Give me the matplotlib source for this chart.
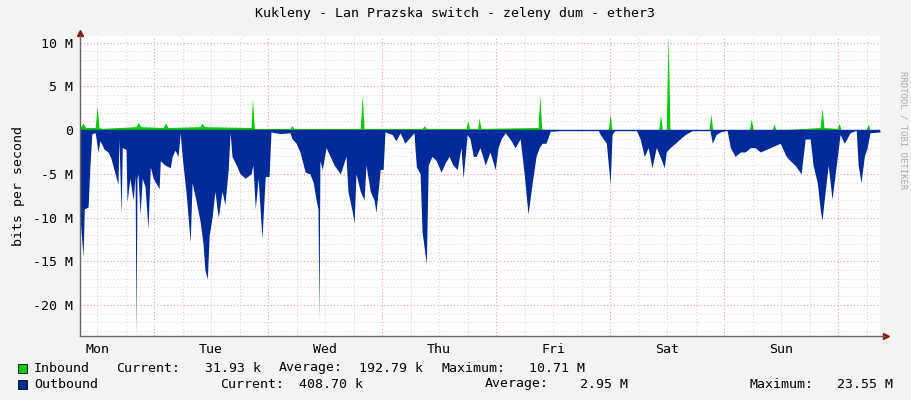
import matplotlib
matplotlib.use("Agg")
import matplotlib.pyplot as plt
import numpy as np

# time in hours since Monday 00:00, values in Mbit/s
out_t = [8.4, 9.05, 9.3, 10.1, 10.5, 10.9, 11.6, 12.2, 12.6, 13.5, 14.3, 14.9, 15.8, 16.4, 16.6, 17.05,
         17.3, 18.1, 18.3, 18.9, 19.6, 20.0, 20.2, 20.4, 20.6, 21.05, 21.5, 22.1, 22.7, 23.2, 23.8, 25.05,
         25.3, 26.3, 27.4, 27.8, 28.4, 29.05, 29.5, 29.9, 30.7, 31.6, 32.0, 32.8, 33.7, 34.3, 34.7, 35.2,
         35.6, 36.2, 36.8, 37.5, 38.3, 38.9, 39.6, 40.0, 40.4, 41.3, 42.1, 43.2, 44.4, 44.8, 45.3, 45.9,
         46.7, 47.4, 48.2, 48.6, 50.5, 52.6, 53.05, 53.9, 54.7, 55.8, 56.8, 57.5, 58.1, 58.5, 58.7, 58.9,
         59.4, 60.2, 61.05, 61.9, 63.2, 64.4, 64.8, 65.7, 66.1, 66.5, 67.4, 68.2, 68.6, 69.5, 70.3, 70.7,
         71.6, 72.2, 72.6, 74.1, 74.9, 75.8, 76.8, 77.9, 78.7, 79.2, 80.0, 80.4, 81.3, 81.7, 82.5, 83.4,
         84.4, 85.3, 86.1, 86.9, 87.8, 88.6, 89.05, 89.9, 90.5, 91.2, 91.8, 92.6, 93.7, 94.7, 95.8, 96.4,
         97.05, 97.9, 98.9, 100.0, 101.05, 101.9, 102.7, 103.6, 104.4, 105.05, 105.7, 106.5, 107.4, 108.4,
         109.5, 110.5, 117.5, 117.9, 119.2, 120.0, 120.4, 121.05, 125.5, 126.3, 127.2, 128.0, 128.8, 129.7, 130.5,
         131.4, 131.8, 132.6, 133.7, 134.7, 135.8, 136.8, 137.5, 141.0, 141.5, 142.3, 143.2, 144.6, 145.3, 146.3, 147.4,
         148.4, 149.5, 150.5, 151.6, 153.7, 155.8, 157.05, 157.9, 158.9, 160.2, 161.05, 162.1, 162.7,
         163.6, 164.2, 164.6, 165.05, 165.9, 166.7, 167.6, 168.4, 169.3, 170.5, 171.8, 172.2, 172.8, 173.5,
         174.1, 174.7, 176.8]
out_v = [-10, -14.5, -9, -8.8, -4, -0.4, -0.3, -2.5, -1.2, -2.2, -2.5, -3.2, -5, -6.2, -1, -9.6,
         -2, -2.2, -8.2, -5.5, -8, -5.2, -23.6, -5.5, -5, -9.6, -5.5, -6.5, -11.3, -4.2, -5.5, -6.7,
         -3.5, -4, -4.3, -3, -2.3, -3, -0.3, -3, -7, -12.8, -6, -8, -10.5, -13, -16, -17,
         -12, -10, -7, -10, -7, -8.5, -4.5, -0.3, -3, -4, -5, -5.5, -5, -4, -9, -5.5,
         -12.4, -5.3, -5.3, -0.2, -0.4, -0.3, -1, -1.5, -2.5, -4.8, -5, -6, -8, -9, -21.9, -3.5,
         -4.5, -2, -3, -4, -5, -3, -7, -9.3, -10.6, -5, -7, -8, -4, -7, -8, -9.4,
         -4.5, -4.5, -0.2, -0.5, -1.2, -0.3, -1.5, -0.8, -0.3, -4.2, -5, -11.6, -15.3, -4, -3, -3.5,
         -4.8, -3.7, -3, -4, -4.5, -2, -5.5, -0.5, -1, -3, -3, -2, -4, -2.5, -4.5, -2,
         -1, -0.3, -1, -2, -1, -5, -9.6, -6, -3, -2, -1.5, -1.5, -0.1, -0.1,
         0, 0, 0, -0.5, -1.5, -6.2, -0.5, 0, 0, -1, -3, -2, -4.3, -2, -3,
         -4.3, -2.5, -2, -1.5, -1, -0.5, -0.2, 0, 0, -1.5, -0.5, -0.2, 0, -2, -3, -2.5,
         -2.5, -2, -2, -2.5, -2, -1.5, -3, -3.5, -4, -5, -1, -1, -4,
         -6, -9, -10.3, -8, -4, -7.9, -4, -0.5, -1.5, -0.3, 0, -4, -6, -3,
         -2, -0.3, -0.2]

in_t = [8.4, 9.05, 9.6, 11.6, 12.0, 12.4, 13.0, 20.2, 20.6, 21.2, 25.9, 26.4, 26.9, 33.7, 34.1,
        34.6, 44.4, 44.7, 45.1, 52.6, 53.0, 53.4, 67.4, 67.8, 68.2, 80.4, 80.9, 81.3, 89.7, 90.0,
        90.4, 92.1, 92.4, 92.8, 104.8, 105.2, 105.6, 119.6, 120.0, 120.4, 130.2, 130.6, 131.0,
        131.8, 132.2, 132.6, 140.8, 141.2, 141.6, 149.3, 149.7, 150.1, 154.1, 154.5, 154.9,
        164.2, 164.6, 165.0, 167.8, 168.2, 168.6, 173.9, 174.3, 174.7, 176.8]
in_v = [0.3, 0.8, 0.3, 0.3, 2.7, 0.3, 0.2, 0.4, 0.9, 0.4, 0.3, 0.8, 0.3, 0.4, 0.8,
        0.4, 0.3, 3.6, 0.2, 0.2, 0.5, 0.2, 0.2, 4.0, 0.2, 0.2, 0.5, 0.2, 0.2, 1.1,
        0.2, 0.2, 1.4, 0.2, 0.3, 4.0, 0.1, 0.0, 1.8, 0.0, 0.0, 1.8, 0.0,
        0.0, 10.7, 0.0, 0.0, 1.8, 0.0, 0.0, 1.3, 0.0, 0.0, 0.7, 0.0,
        0.3, 2.5, 0.3, 0.2, 0.8, 0.0, 0.0, 0.7, 0.0, 0.0]

days = ["Mon", "Tue", "Wed", "Thu", "Fri", "Sat", "Sun"]
y_ticks = [10, 5, 0, -5, -10, -15, -20]

legend_rows = [
    ("Inbound", "#00cc00", [("Current:", 116), ("31.93 k", 205), ("Average:", 279),
                             ("192.79 k", 359), ("Maximum:", 441), ("10.71 M", 529)]),
    ("Outbound", "#002a97", [("Current:", 220), ("408.70 k", 299), ("Average:", 485),
                              ("2.95 M", 580), ("Maximum:", 750), ("23.55 M", 837)]),
]

mono = "DejaVu Sans Mono"
fig = plt.figure(figsize=(9.11, 4.0), dpi=100, facecolor="#f3f3f3")
ax = fig.add_axes([80/911, 64/400, 800/911, 300/400], facecolor="white")
xmin, xmax = 8.4, 176.8
ymin, ymax = -23.55, 10.77
ax.set_xlim(xmin, xmax)
ax.set_ylim(ymin, ymax)

for h in np.arange(0, 180, 6):
    if xmin < h < xmax:
        c = "#e8a0a0" if h % 24 == 0 else "#d8d8d8"
        ax.axvline(h, color=c, lw=0.8, ls=(0, (1, 2)), zorder=0)
for v in range(-23, 11):
    c = "#e8a0a0" if v % 5 == 0 else "#dcdcdc"
    ax.axhline(v, color=c, lw=0.8, ls=(0, (1, 2)), zorder=0)

ax.fill_between(out_t, out_v, 0, color="#002a97", lw=0, zorder=2)
ax.fill_between(in_t, in_v, 0, color="#00cc00", lw=0, zorder=2)
ax.plot([xmin, xmax], [0, 0], color="#002a97", lw=1, zorder=3)

for s in ax.spines.values():
    s.set_visible(False)
ax.plot([xmin, xmin], [ymin, ymax], color="#666666", lw=1, clip_on=False, zorder=4)
ax.plot([xmin, xmax + 1], [ymin, ymin], color="#666666", lw=1, clip_on=False, zorder=4)
ax.plot([xmin], [ymax + 0.3], marker="^", color="#8b1a1a", ms=4, clip_on=False)
ax.plot([xmax + 1.2], [ymin], marker=">", color="#8b1a1a", ms=4, clip_on=False)

ax.set_yticks(y_ticks)
ax.set_yticklabels([f"{v} M" if v != 0 else "0" for v in y_ticks], fontfamily=mono, fontsize=9.5)
ax.set_xticks([12 + 24 * i for i in range(7)])
ax.set_xticklabels(days, fontfamily=mono, fontsize=9.5)
ax.tick_params(length=0, pad=5)
ax.set_ylabel("bits per second", fontfamily=mono, fontsize=9.5, labelpad=6)

fig.text(455/911, 1 - 14/400, "Kukleny - Lan Prazska switch - zeleny dum - ether3",
         ha="center", va="center", fontfamily=mono, fontsize=9.5)
fig.text(903/911, 1 - 130/400, "RRDTOOL / TOBI OETIKER", rotation=270, ha="center", va="center",
         fontfamily=mono, fontsize=6.5, color="#aaaaaa")

for i, (name, col, items) in enumerate(legend_rows):
    y = 368 + 16 * i
    fig.patches.append(plt.Rectangle((18/911, 1 - (y + 5)/400), 9/911, 9/400, transform=fig.transFigure,
                                     facecolor=col, edgecolor="black", lw=0.6))
    fig.text(34/911, 1 - y/400, name, va="center", fontfamily=mono, fontsize=9.5)
    for txt, px in items:
        fig.text(px/911, 1 - y/400, txt, va="center", fontfamily=mono, fontsize=9.5)

fig.savefig("out.png", dpi=100, facecolor=fig.get_facecolor())
